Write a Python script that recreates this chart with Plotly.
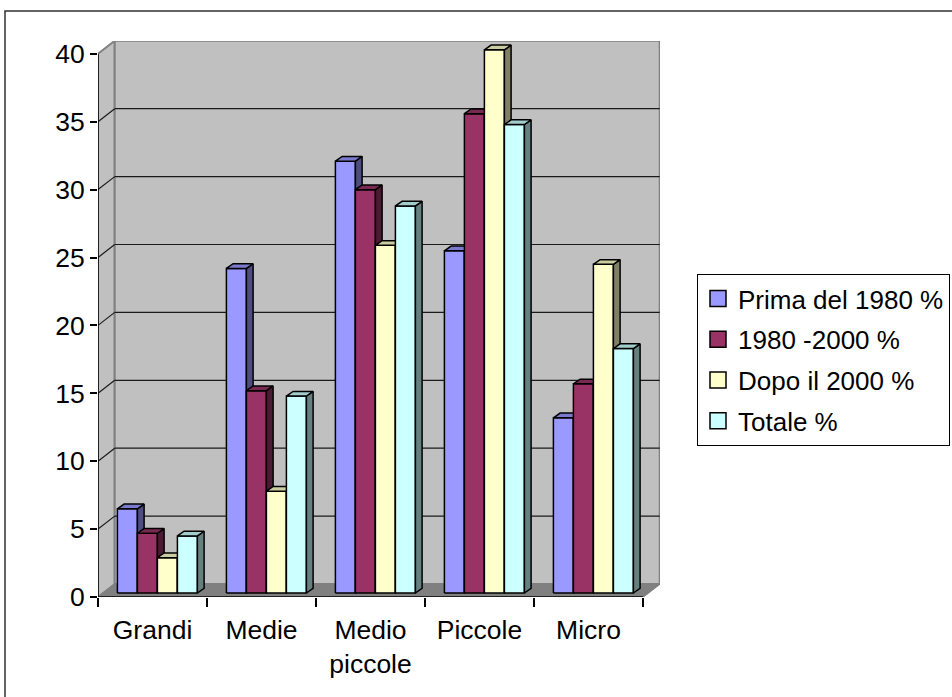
import plotly.graph_objects as go

# ---- data ----
categories = ["Grandi", "Medie", "Medio<br>piccole", "Piccole", "Micro"]
series_names = ["Prima del 1980 %", "1980 -2000 %", "Dopo il 2000 %", "Totale %"]
prima_1980 = [6.2, 23.9, 31.8, 25.2, 12.9]
anni_1980_2000 = [4.4, 14.9, 29.7, 35.3, 15.4]
dopo_2000 = [2.6, 7.5, 25.6, 40.0, 24.2]
totale = [4.2, 14.5, 28.5, 34.5, 18.0]
y_ticks = [0, 5, 10, 15, 20, 25, 30, 35, 40]

series_values = [prima_1980, anni_1980_2000, dopo_2000, totale]
front_colors = ["#9999FF", "#993366", "#FFFFCC", "#CCFFFF"]
top_colors = ["#7A7ACC", "#7A2952", "#CCCCA3", "#A3CCCC"]
side_colors = ["#4D4D80", "#4D1A33", "#808066", "#668080"]

# ---- geometry (pixels -> axis units) ----
W, H = 952, 697
ML, MT, PW, PH = 98, 41, 562, 556
UX = 109.0   # px per category slot
UY = 13.58   # px per value unit
x_range = [-0.5, -0.5 + PW / UX]
y_range = [0, PH / UY]
DX, DY = 16.7 / UX, 13.0 / UY   # depth of the walls / floor
FX, FY = 4.9 / UX, 4.0 / UY     # bar front face pushed into depth
BX, BY = 6.7 / UX, 4.7 / UY     # bar thickness in depth
BW = 20.0 / UX                  # bar width
n = len(categories)
ymax = y_ticks[-1]

FONT = "Liberation Sans, Arial, sans-serif"


def poly(xs, ys, fill, line_color, width=1.5):
    return go.Scatter(
        x=list(xs) + [xs[0]], y=list(ys) + [ys[0]],
        mode="lines", fill="toself", fillcolor=fill,
        line=dict(color=line_color, width=width),
        hoverinfo="skip", showlegend=False,
    )


def segs(pairs, color, width):
    xs, ys = [], []
    for (x0, y0), (x1, y1) in pairs:
        xs += [x0, x1, None]
        ys += [y0, y1, None]
    return go.Scatter(x=xs, y=ys, mode="lines",
                      line=dict(color=color, width=width),
                      hoverinfo="skip", showlegend=False)


fig = go.Figure()

x0, x1 = -0.5, n - 0.5
# side wall and back wall
fig.add_trace(poly([x0, x0 + DX, x0 + DX, x0], [0, DY, ymax + DY, ymax], "#C0C0C0", "#808080", 2))
fig.add_trace(poly([x0 + DX, x1 + DX, x1 + DX, x0 + DX], [DY, DY, ymax + DY, ymax + DY],
                   "#C0C0C0", "#808080", 2))
# gridlines on walls
grid_pairs = []
for v in y_ticks[1:-1]:
    grid_pairs.append(((x0, v), (x0 + DX, v + DY)))
    grid_pairs.append(((x0 + DX, v + DY), (x1 + DX, v + DY)))
fig.add_trace(segs(grid_pairs, "#1a1a1a", 1.2))
# floor
fig.add_trace(poly([x0, x1, x1 + DX, x0 + DX], [0, 0, DY, DY], "#808080", "#808080", 1))

# 3D columns, drawn left to right so nearer faces overlap correctly
for i in range(n):
    for k, vals in enumerate(series_values):
        L = i - 2 * BW + k * BW + FX
        R = L + BW
        b = FY
        t = FY + vals[i]
        fig.add_trace(poly([L, R, R, L], [b, b, t, t], front_colors[k], "black"))
        fig.add_trace(poly([R, R + BX, R + BX, R], [b, b + BY, t + BY, t], side_colors[k], "black"))
        fig.add_trace(poly([L, R, R + BX, L + BX], [t, t, t + BY, t + BY], top_colors[k], "black"))

# front axis lines
fig.add_trace(segs([((x0, 0), (x0, ymax)), ((x0, 0), (x1, 0))], "black", 1.5))
fig.add_trace(segs([((x1, 0), (x1 + DX, DY))], "#808080", 1.5))

# legend entries
for k, name in enumerate(series_names):
    fig.add_trace(go.Scatter(
        x=[None], y=[None], mode="markers", name=name, legendgroup=name,
        marker=dict(symbol="square", size=16, color=front_colors[k],
                    line=dict(color="black", width=1.5)),
        xaxis="x2", hoverinfo="skip",
    ))

# outer chart frame
fig.add_shape(type="rect", xref="paper", yref="paper",
              x0=(5 - ML) / PW, x1=(965 - ML) / PW,
              y0=(MT + PH - 710) / PH, y1=(MT + PH - 11) / PH,
              line=dict(color="#303030", width=1.5), fillcolor="rgba(0,0,0,0)")

fig.update_layout(
    width=W, height=H,
    margin=dict(l=ML, t=MT, r=W - ML - PW, b=H - MT - PH, pad=0, autoexpand=False),
    paper_bgcolor="white", plot_bgcolor="white",
    font=dict(family=FONT, size=26, color="black"),
    xaxis=dict(range=x_range, tickvals=[i - 0.5 for i in range(n + 1)],
               ticks="outside", ticklen=9, tickwidth=1.5, tickcolor="black",
               showticklabels=False, showgrid=False, zeroline=False, showline=False,
               fixedrange=True),
    xaxis2=dict(range=x_range, overlaying="x", anchor="y", side="bottom",
                tickvals=list(range(n)), ticktext=categories,
                ticks="outside", ticklen=9, tickcolor="rgba(0,0,0,0)",
                showgrid=False, zeroline=False, showline=False, fixedrange=True,
                tickfont=dict(family=FONT, size=26.5, color="black")),
    yaxis=dict(range=y_range, tickvals=y_ticks, ticks="outside", ticklen=7,
               tickwidth=1.5, tickcolor="black", showgrid=False, zeroline=False,
               showline=False, fixedrange=True,
               tickfont=dict(family=FONT, size=26.5, color="black")),
    legend=dict(x=(697 - ML) / PW, y=(MT + PH - 274) / PH, xanchor="left", yanchor="top",
                bordercolor="black", borderwidth=1, bgcolor="white",
                traceorder="grouped", tracegroupgap=4,
                font=dict(family=FONT, size=26, color="black")),
    showlegend=True,
)

fig.write_html("out.html")
